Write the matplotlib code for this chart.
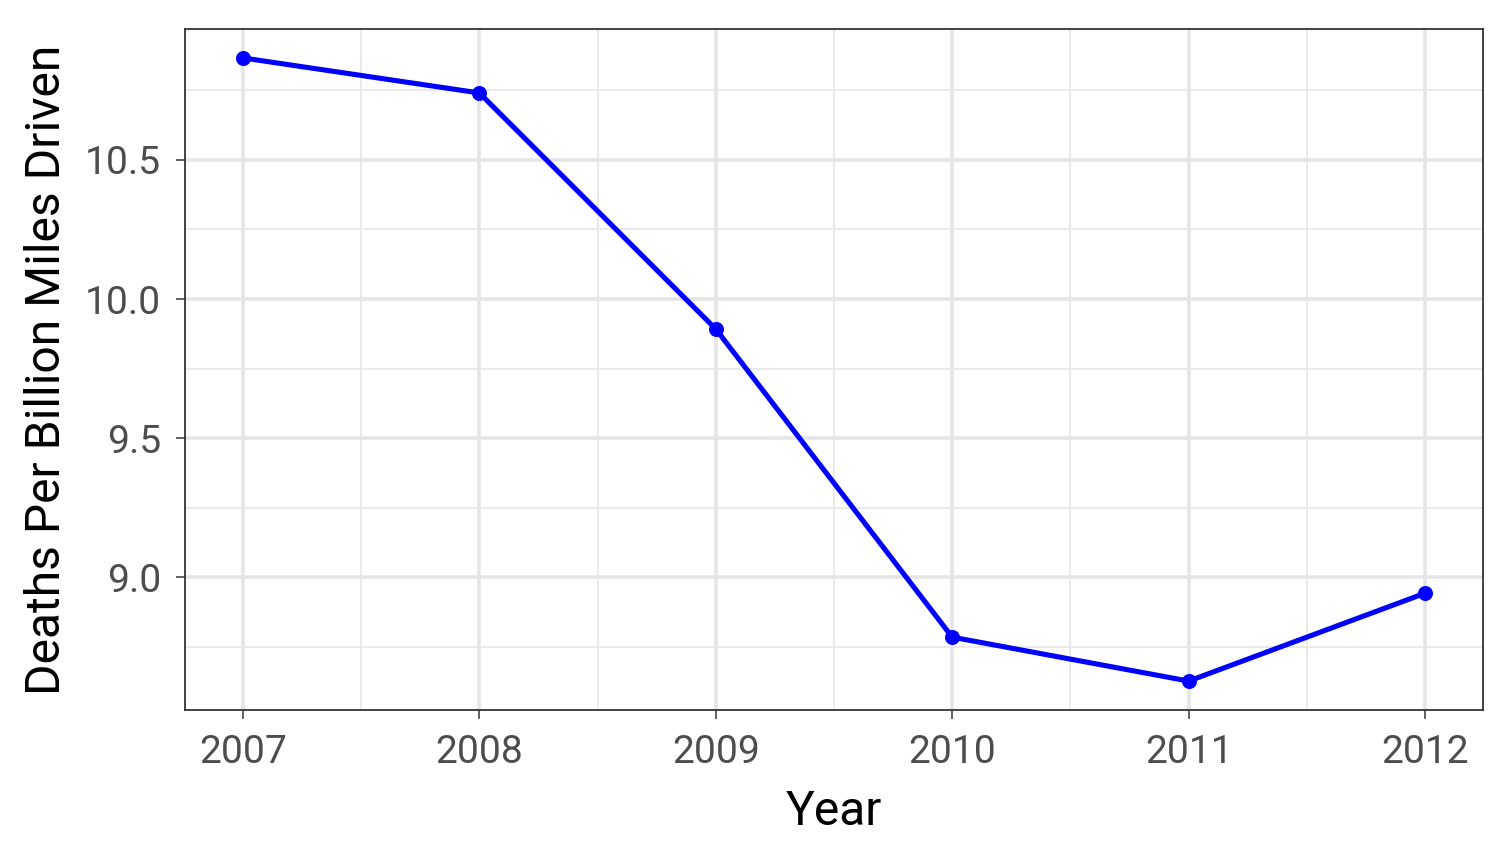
import matplotlib
matplotlib.use("Agg")
import matplotlib.pyplot as plt
from matplotlib.ticker import MultipleLocator

years = [2007, 2008, 2009, 2010, 2011, 2012]
deaths = [10.867, 10.741, 9.892, 8.784, 8.626, 8.942]
y_ticks = [9.0, 9.5, 10.0, 10.5]
y_labels = ["9.0", "9.5", "10.0", "10.5"]

plt.rcParams['font.family'] = ['Roboto', 'DejaVu Sans']

fig, ax = plt.subplots(figsize=(7, 4), dpi=216)
fig.subplots_adjust(left=185 / 1512, right=1483 / 1512, top=1 - 29 / 864, bottom=1 - 710 / 864)

ax.plot(years, deaths, color='blue', linewidth=1.7, marker='o', markersize=4, zorder=3)

ax.set_xlim(2006.755, 2012.245)
ax.set_ylim(8.522, 10.971)
ax.set_xticks(years)
ax.set_yticks(y_ticks)
ax.set_yticklabels(y_labels)
ax.xaxis.set_minor_locator(MultipleLocator(0.5))
ax.yaxis.set_minor_locator(MultipleLocator(0.25))

ax.grid(which='major', color='#e5e5e5', linewidth=1.2)
ax.grid(which='minor', color='#e8e8e8', linewidth=0.6)
ax.set_axisbelow(True)
ax.tick_params(which='minor', length=0)
ax.tick_params(which='major', length=3, width=0.5, color='#333333', labelsize=13,
               labelcolor='#4d4d4d', pad=5)
for s in ax.spines.values():
    s.set_color('#333333')
    s.set_linewidth(0.6)

ax.set_xlabel("Year", fontsize=16, labelpad=6)
ax.set_ylabel("Deaths Per Billion Miles Driven", fontsize=16, labelpad=5)

fig.savefig("out.png", dpi=216)
